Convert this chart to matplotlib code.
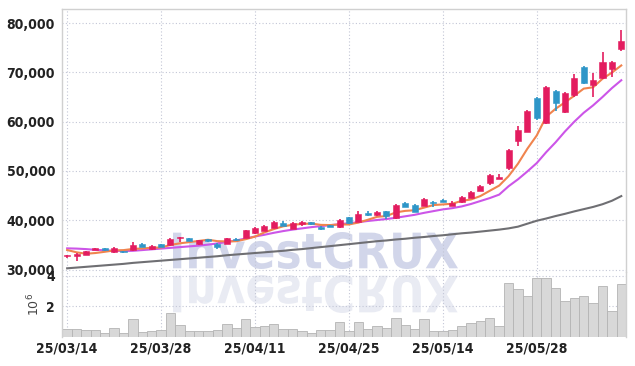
import matplotlib.pyplot as plt
import matplotlib.ticker as mticker
from matplotlib.textpath import TextPath
from matplotlib.patches import PathPatch
from matplotlib.font_manager import FontProperties
from matplotlib.transforms import Affine2D
import numpy as np

# --- DATA ---
dates = [
    "25/03/14", "25/03/17", "25/03/18", "25/03/19", "25/03/20", "25/03/21", "25/03/24", "25/03/25",
    "25/03/26", "25/03/27", "25/03/28", "25/03/31", "25/04/01", "25/04/02", "25/04/03", "25/04/04",
    "25/04/07", "25/04/08", "25/04/09", "25/04/10", "25/04/11", "25/04/14", "25/04/15", "25/04/16",
    "25/04/17", "25/04/18", "25/04/21", "25/04/22", "25/04/23", "25/04/24", "25/04/25", "25/04/28",
    "25/04/29", "25/04/30", "25/05/02", "25/05/07", "25/05/08", "25/05/09", "25/05/12", "25/05/13",
    "25/05/14", "25/05/15", "25/05/16", "25/05/19", "25/05/20", "25/05/21", "25/05/22", "25/05/23",
    "25/05/26", "25/05/27", "25/05/28", "25/05/29", "25/05/30", "25/06/02", "25/06/04", "25/06/05",
    "25/06/09", "25/06/10", "25/06/11", "25/06/12",
]

opens = [32650, 32800, 33000, 34050, 34050, 33650, 33750, 33900, 35200, 34100,
         35100, 35000, 36300, 36300, 35100, 35900, 35200, 35200, 36050, 36500,
         37350, 37900, 38500, 39450, 38300, 39300, 39350, 38700, 39000, 38550,
         40600, 39700, 41500, 41000, 41800, 40450, 43450, 43100, 42900, 43750,
         44100, 42900, 43650, 44600, 45950, 47600, 48450, 50650, 56150, 57950,
         64800, 59650, 66200, 61900, 65450, 71100, 67500, 68900, 70600, 74700]
closes = [32750, 33200, 33750, 34150, 33980, 34350, 33500, 34950, 34600, 34700,
          34600, 36100, 36600, 35800, 35900, 35800, 34650, 36300, 35950, 37950,
          38500, 38900, 39650, 38850, 39450, 39400, 39250, 38300, 38650, 40050,
          39400, 41250, 41100, 41650, 40850, 43150, 42750, 41750, 44300, 43450,
          43800, 43450, 44650, 45700, 46950, 49150, 48700, 54250, 58300, 62150,
          60700, 67100, 63850, 65800, 68850, 67900, 68450, 72100, 72000, 76350]
highs = [33000, 33300, 33800, 34350, 34300, 34550, 33800, 35600, 35300, 34900,
         35200, 36300, 36700, 36400, 36000, 36200, 35400, 36500, 36300, 38100,
         38600, 39000, 39750, 39900, 39550, 39900, 39550, 38800, 39100, 40200,
         40700, 41800, 41800, 41850, 41900, 43300, 43700, 43200, 44450, 43850,
         44400, 43950, 44900, 45850, 47100, 49400, 49300, 54400, 59100, 62300,
         65050, 67200, 66500, 66100, 69700, 71300, 69900, 74050, 72300, 78650]
lows = [32300, 31800, 32950, 33950, 33800, 33400, 33350, 33800, 34500, 33950,
        34500, 34700, 35500, 35700, 35000, 35500, 34100, 35100, 35700, 36400,
        37200, 37800, 38400, 38750, 38200, 38900, 39000, 38000, 38550, 38400,
        39300, 39600, 40900, 40900, 40200, 40350, 42650, 41650, 42800, 42750,
        43700, 42800, 43550, 44450, 45850, 47150, 48350, 50100, 55050, 57800,
        60300, 59500, 62250, 61800, 65000, 67700, 65050, 68700, 69100, 74400]

ma5 = [33960, 33500, 33200, 33350, 33600, 33880, 33940, 34180, 34280, 34420,
       34470, 34990, 35320, 35560, 35800, 36050, 35760, 35700, 35740, 36150,
       36680, 37530, 38200, 38770, 39070, 39250, 39330, 39060, 39020, 39140,
       39140, 39530, 40090, 40690, 40850, 41600, 41900, 42030, 42560, 43080,
       43210, 43350, 43930, 44210, 44910, 45980, 47030, 48950, 51470, 54510,
       57200, 61000, 62600, 63920, 65260, 66700, 66970, 68700, 69950, 71400]
ma20 = [34300, 34250, 34150, 34000, 33900, 33800, 33760, 33800, 33950, 34100,
        34250, 34400, 34550, 34700, 34850, 35050, 35300, 35600, 35900, 36300,
        36700, 37050, 37450, 37800, 38100, 38350, 38600, 38800, 39000, 39200,
        39400, 39600, 39850, 40050, 40250, 40500, 40800, 41100, 41500, 41850,
        42200, 42450, 42800, 43300, 43900, 44500, 45200, 46900, 48300, 49900,
        51600, 53800, 55800, 58000, 60000, 61800, 63300, 65000, 66800, 68400]
ma120 = [30250, 30400, 30550, 30700, 30850, 31000, 31150, 31350, 31500, 31650,
         31800, 31950, 32100, 32250, 32400, 32550, 32700, 32900, 33050, 33200,
         33350, 33500, 33650, 33800, 34000, 34150, 34350, 34550, 34750, 34950,
         35150, 35350, 35550, 35750, 35900, 36100, 36250, 36450, 36600, 36800,
         36950, 37150, 37350, 37500, 37700, 37900, 38100, 38350, 38700, 39300,
         39900, 40350, 40850, 41300, 41800, 42250, 42700, 43250, 43950, 44900]

volume_m = [0.52, 0.52, 0.46, 0.46, 0.28, 0.59, 0.28, 1.18, 0.35, 0.41,
            0.46, 1.57, 0.78, 0.41, 0.41, 0.41, 0.48, 0.85, 0.59, 1.18,
            0.67, 0.74, 0.85, 0.52, 0.52, 0.41, 0.28, 0.45, 0.46, 0.98,
            0.41, 0.98, 0.52, 0.72, 0.59, 1.24, 0.78, 0.52, 1.18, 0.39,
            0.39, 0.46, 0.72, 0.91, 1.05, 1.24, 0.72, 3.53, 3.14, 2.70,
            3.86, 3.86, 3.20, 2.37, 2.55, 2.70, 2.24, 3.35, 1.72, 3.48]

UP_COLOR = "#e31c5f"
DOWN_COLOR = "#2e96c8"
GRID_COLOR = "#c3c6d6"

x = np.arange(len(dates))
o = np.array(opens)
c = np.array(closes)
vol = np.array(volume_m) * 1e6

# --- FIGURE / AXES ---
fig = plt.figure(figsize=(6.35, 3.66), dpi=100)
ax = fig.add_axes([0.0976, 0.2568, 0.8882, 0.7186])
axv = fig.add_axes([0.0976, 0.0792, 0.8882, 0.1776], sharex=ax)
for a in (ax, axv):
    a.set_facecolor("none")

# --- WATERMARK (text + mirrored reflection) in figure pixels ---
fp = FontProperties(family="DejaVu Sans", weight="bold")
tp = TextPath((0, 0), "InvestCRUX", size=100, prop=fp)
ext = tp.get_extents()
sx = 285 / ext.width
main_tr = Affine2D().translate(-ext.x0, -ext.y0).scale(sx, 37 / ext.height).translate(173, 97).scale(1 / 100)
refl_tr = Affine2D().translate(-ext.x0, -ext.y0).scale(sx, -38 / ext.height).translate(173, 91).scale(1 / 100)
fig.add_artist(PathPatch(main_tr.transform_path(tp), transform=fig.dpi_scale_trans,
                         facecolor="#d2d6ea", edgecolor="none", zorder=-5))
fig.add_artist(PathPatch(refl_tr.transform_path(tp), transform=fig.dpi_scale_trans,
                         facecolor="#e9ebf3", edgecolor="none", zorder=-5))

# --- CANDLES ---
up = c >= o
colors = np.where(up, UP_COLOR, DOWN_COLOR)
body_bottom = np.minimum(o, c)
body_h = np.maximum(np.abs(c - o), 300)
ax.vlines(x, lows, highs, colors=colors, linewidth=1.2, zorder=3)
ax.bar(x, body_h, bottom=body_bottom, width=0.64, color=colors, edgecolor=colors,
       linewidth=0.4, zorder=4)

# --- MOVING AVERAGES ---
ax.plot(x, ma120, color="#6f6f73", linewidth=1.5, zorder=2)
ax.plot(x, ma20, color="#cc55e8", linewidth=1.5, zorder=2)
ax.plot(x, ma5, color="#f0844e", linewidth=1.5, zorder=2)

ax.set_xlim(-0.55, 59.5)
ax.set_ylim(29500, 82850)
ax.yaxis.set_major_locator(mticker.MultipleLocator(10000))
ax.yaxis.set_major_formatter(mticker.FuncFormatter(lambda v, p: f"{int(v):,}"))
ax.grid(True, color=GRID_COLOR, linestyle=(0, (1, 2)), linewidth=0.8)
ax.tick_params(axis="x", labelbottom=False, length=0)
ax.tick_params(axis="y", length=0, pad=5, labelcolor="#222222")

# --- VOLUME ---
axv.bar(x, vol, width=1.0, color="#d8d8d8", edgecolor="#b4b4b4", linewidth=0.6, zorder=2)
axv.set_ylim(0, 4.25e6)
axv.set_yticks([2e6, 4e6])
axv.yaxis.set_major_formatter(mticker.FuncFormatter(lambda v, p: f"{v / 1e6:.0f}"))
axv.set_ylabel(r"$10^6$", fontsize=9, color="#444444", labelpad=3)
axv.grid(True, color=GRID_COLOR, linestyle=(0, (1, 2)), linewidth=0.8)
axv.set_xticks(x[::10])
axv.set_xticklabels([dates[i] for i in x[::10]])
axv.tick_params(axis="both", length=0, labelcolor="#222222")
axv.tick_params(axis="y", pad=5)

for a in (ax, axv):
    for lbl in a.get_xticklabels() + a.get_yticklabels():
        lbl.set_family("DejaVu Sans")
        lbl.set_stretch("condensed")
        lbl.set_fontweight("bold")
        lbl.set_fontsize(10)
    for side in ("left", "right", "top", "bottom"):
        a.spines[side].set_color("#d0d0d0")
        a.spines[side].set_linewidth(1.0)
ax.spines["bottom"].set_visible(False)
axv.spines["top"].set_visible(False)
axv.spines["bottom"].set_visible(False)

fig.savefig("out.png", dpi=100)
